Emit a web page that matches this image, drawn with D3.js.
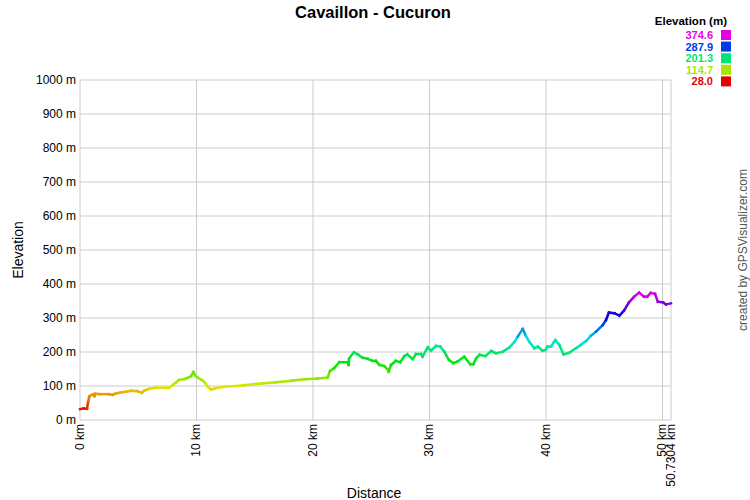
<!DOCTYPE html>
<html>
<head>
<meta charset="utf-8">
<script src="https://cdn.jsdelivr.net/npm/d3@7"></script>
<style>
  body { margin: 0; background: #fff; }
  text { font-family: "Liberation Sans", Arial, sans-serif; }
</style>
</head>
<body>
<div id="chart"></div>
<script>
// track profile
let distKm = [0, 0.3, 0.6, 0.7, 0.8, 0.95, 1.2, 1.25, 1.35, 1.7, 2.5, 2.8, 3.0, 3.4, 3.95, 4.4, 4.95, 5.3, 5.5, 5.95,
  6.5, 7.67, 7.95, 8.24, 8.5, 8.95, 9.24, 9.53, 9.73, 9.9, 10.24, 10.53, 10.76, 10.97, 11.24, 11.5, 11.67, 12.5, 13.97, 15.1,
  15.7, 16.8, 18.25, 19.4, 20.4, 21.26, 21.46, 21.8, 22.26, 22.98, 23.06, 23.1, 23.5, 23.83, 24.26, 24.7, 25.1, 25.4, 25.7, 26.1,
  26.4, 26.5, 26.7, 27.1, 27.5, 27.84, 28.1, 28.56, 28.84, 29.27, 29.4, 29.85, 30.13, 30.56, 30.93, 31.27, 31.65, 32.05, 32.4, 32.98,
  33.5, 33.76, 34.0, 34.3, 34.8, 35.3, 35.7, 36.3, 36.85, 37.3, 37.57, 38.0, 38.28, 38.57, 39.0, 39.3, 39.7, 39.94, 40.14, 40.43,
  40.8, 41.14, 41.5, 42.0, 42.6, 43.0, 43.43, 43.86, 44.3, 44.87, 45.15, 45.4, 45.9, 46.3, 46.7, 47.1, 47.58, 48.0, 48.4, 48.7,
  49.0, 49.36, 49.6, 50.03, 50.3, 50.7304];
let elevM = [32, 34, 33, 54, 69, 73, 76, 70, 77, 76, 76, 74, 77, 80, 83, 86, 85, 80, 86, 92,
  95, 95, 103, 110, 118, 120, 124, 129, 141, 130, 122, 116, 108, 98, 90, 92, 94, 98, 102, 106,
  108, 111, 116, 120, 122, 125, 144, 152, 170, 170, 162, 181, 199, 193, 183, 180, 174, 174, 162, 159,
  149, 142, 162, 174, 170, 188, 193, 179, 194, 194, 186, 214, 204, 218, 216, 201, 177, 167, 172, 186,
  164, 164, 181, 192, 188, 203, 196, 201, 213, 230, 245, 268, 247, 230, 211, 216, 204, 206, 216, 216,
  235, 221, 193, 198, 212, 221, 232, 248, 260, 279, 294, 316, 314, 307, 322, 345, 363, 374.6, 363, 363,
  374, 371, 348, 346, 340, 343];

let yTicks = [0, 100, 200, 300, 400, 500, 600, 700, 800, 900, 1000];
let xTicks = [0, 10, 20, 30, 40, 50, 50.7304];
let legendVals = [374.6, 287.9, 201.3, 114.7, 28.0];

let width = 750, height = 500;
let plotL = 80, plotR = 671, plotT = 80, plotB = 420;

let svg = d3.select("#chart").append("svg")
    .attr("width", width)
    .attr("height", height);

let x = d3.scaleLinear().domain([0, 50.7304]).range([plotL, plotR]);
let y = d3.scaleLinear().domain([0, 1000]).range([plotB, plotT]);

// hue runs red -> magenta over the elevation range
let color = d => d3.hsl(300 * (d - 28.0) / (374.6 - 28.0), 1, 0.45).formatHex();

// grid
svg.append("g").selectAll("line")
  .data(yTicks)
  .enter().append("line")
  .attr("x1", plotL).attr("x2", plotR)
  .attr("y1", d => y(d)).attr("y2", d => y(d))
  .attr("stroke", "#cccccc");

svg.append("g").selectAll("line")
  .data(xTicks)
  .enter().append("line")
  .attr("x1", d => x(d)).attr("x2", d => x(d))
  .attr("y1", plotT).attr("y2", plotB)
  .attr("stroke", "#cccccc");

// y tick labels
svg.append("g").selectAll("text")
  .data(yTicks)
  .enter().append("text")
  .attr("x", plotL - 4)
  .attr("y", d => y(d) + 4)
  .attr("text-anchor", "end")
  .style("font-size", "12px")
  .text(d => d + " m");

// x tick labels, rotated
svg.append("g").selectAll("text")
  .data(xTicks)
  .enter().append("text")
  .attr("transform", d => "translate(" + (x(d) + 4) + "," + (plotB + 4) + ") rotate(-90)")
  .attr("text-anchor", "end")
  .style("font-size", "12px")
  .text(d => d + " km");

// track, one segment per step so each gets its own colour
let pts = distKm.map((d, i) => [d, elevM[i]]);
svg.append("g").selectAll("line")
  .data(d3.pairs(pts))
  .enter().append("line")
  .attr("x1", d => x(d[0][0])).attr("y1", d => y(d[0][1]))
  .attr("x2", d => x(d[1][0])).attr("y2", d => y(d[1][1]))
  .attr("stroke", d => color((d[0][1] + d[1][1]) / 2))
  .attr("stroke-width", 2.5)
  .attr("stroke-linecap", "square");

// titles
svg.append("text")
  .attr("x", 373).attr("y", 18)
  .attr("text-anchor", "middle")
  .style("font-size", "16.5px").style("font-weight", "bold")
  .text("Cavaillon - Cucuron");

svg.append("text")
  .attr("x", 374).attr("y", 498)
  .attr("text-anchor", "middle")
  .style("font-size", "14px")
  .text("Distance");

svg.append("text")
  .attr("transform", "translate(23,250) rotate(-90)")
  .attr("text-anchor", "middle")
  .style("font-size", "14px")
  .text("Elevation");

// legend
svg.append("text")
  .attr("x", 727).attr("y", 25)
  .attr("text-anchor", "end")
  .style("font-size", "11.5px").style("font-weight", "bold")
  .text("Elevation (m)");

let leg = svg.append("g").selectAll("g")
  .data(legendVals)
  .enter().append("g")
  .attr("transform", (d, i) => "translate(0," + (35 + i * 11.6) + ")");

leg.append("text")
  .attr("x", 713).attr("y", 4)
  .attr("text-anchor", "end")
  .style("font-size", "11px").style("font-weight", "bold")
  .attr("fill", d => color(d))
  .text(d => d.toFixed(1));

leg.append("rect")
  .attr("x", 721).attr("y", -5)
  .attr("width", 10).attr("height", 10)
  .attr("fill", d => color(d));

// credit
svg.append("text")
  .attr("transform", "translate(747,250) rotate(-90)")
  .attr("text-anchor", "middle")
  .style("font-size", "12px")
  .attr("fill", "#555555")
  .text("created by GPSVisualizer.com");
</script>
</body>
</html>
